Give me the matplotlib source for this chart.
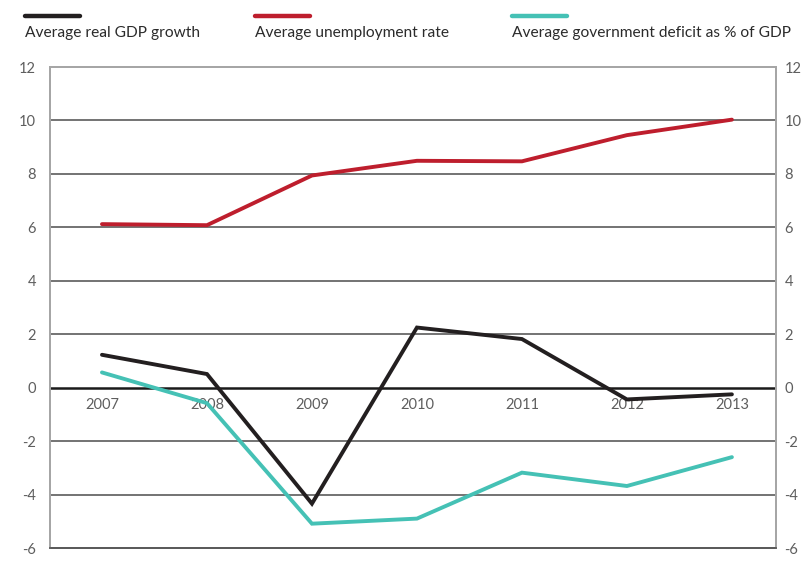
import os
os.environ.setdefault("MPLBACKEND", "Agg")
import matplotlib.pyplot as plt
from matplotlib.lines import Line2D

years = ["2007", "2008", "2009", "2010", "2011", "2012", "2013"]
gdp_growth = [1.23, 0.51, -4.34, 2.25, 1.82, -0.44, -0.25]
unemployment = [6.12, 6.08, 7.94, 8.49, 8.47, 9.45, 10.03]
deficit = [0.57, -0.58, -5.09, -4.9, -3.18, -3.68, -2.6]
y_ticks = [12, 10, 8, 6, 4, 2, 0, -2, -4, -6]

_SERIES = [
    ("Average real GDP growth", gdp_growth, "#231f20"),
    ("Average unemployment rate", unemployment, "#be1e2d"),
    ("Average government deficit as % of GDP", deficit, "#45c1b5"),
]
_TICK_GREY = "#5e5e5e"

plt.rcParams["font.family"] = ["Lato", "DejaVu Sans"]

fig = plt.figure(figsize=(8.05, 5.63), dpi=100)
ax = fig.add_axes([50 / 805, 1 - 548 / 563, 726 / 805, 481 / 563])

x = list(range(len(years)))
ax.set_xlim(-0.495, 6.42)
ax.set_ylim(-6, 12)

# horizontal gridlines, zero line heavier
for t in y_ticks:
    if t in (12, -6):
        continue
    if t == 0:
        ax.axhline(0, color="#1a1a1a", lw=1.8, zorder=1)
    else:
        ax.axhline(t, color="#4d4d4d", lw=1.1, zorder=1)

for name, vals, col in _SERIES:
    ax.plot(x, vals, color=col, lw=2.8, solid_capstyle="round",
            solid_joinstyle="miter", zorder=3)

# year labels sit just under the zero line
for i, yr in enumerate(years):
    ax.text(i, -0.38, yr, ha="center", va="top", fontsize=10.5,
            color=_TICK_GREY, zorder=2)

ax.set_xticks([])
ax.set_yticks(y_ticks)
ax.set_yticklabels([str(t) for t in y_ticks])
ax.tick_params(axis="y", length=0, pad=10, labelsize=10.5,
               labelcolor=_TICK_GREY, left=False)

# same scale repeated on the right
ax_r = ax.twinx()
ax_r.set_ylim(ax.get_ylim())
ax_r.set_yticks(y_ticks)
ax_r.set_yticklabels([str(t) for t in y_ticks])
ax_r.tick_params(axis="y", length=0, pad=6, labelsize=10.5,
                 labelcolor=_TICK_GREY, right=False)

for a in (ax, ax_r):
    for side in ("left", "right", "top"):
        a.spines[side].set_color("#a6a6a6")
        a.spines[side].set_linewidth(1.3)
    a.spines["bottom"].set_color("#5a5a5a")
    a.spines["bottom"].set_linewidth(1.3)

# legend: short coloured bar above each label
legend_x = [25, 255, 512]
for (name, vals, col), lx in zip(_SERIES, legend_x):
    fig.add_artist(Line2D([lx / 805, (lx + 55) / 805],
                          [1 - 16 / 563, 1 - 16 / 563],
                          color=col, lw=3.2, solid_capstyle="round"))
    fig.text(lx / 805, 1 - 33 / 563, name, ha="left", va="center",
             fontsize=11.2, color="#2b2b2b")

fig.savefig("out.png", dpi=100)
